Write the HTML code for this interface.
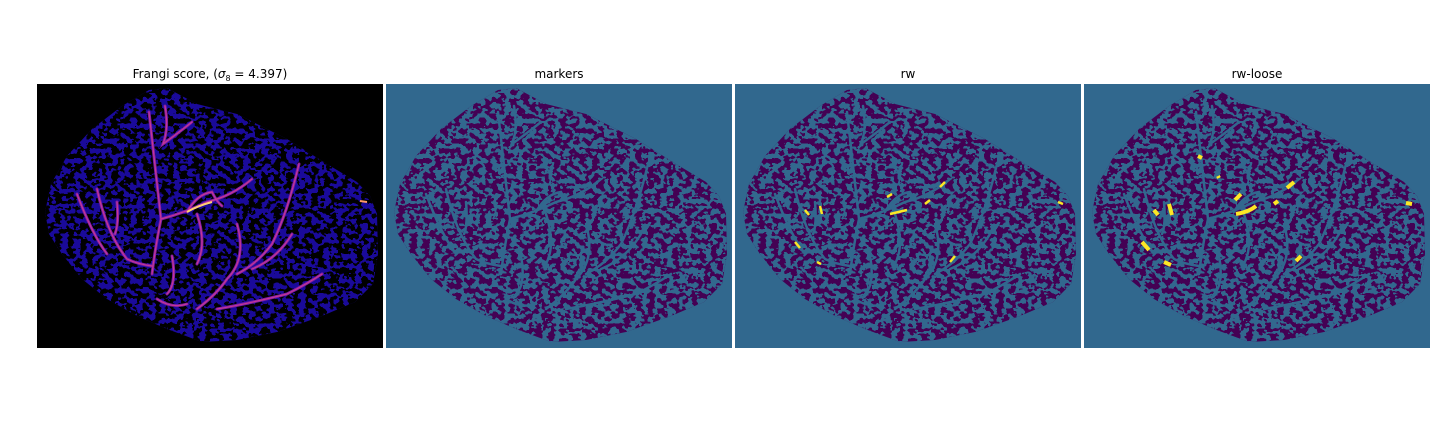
<!DOCTYPE html>
<html><head><meta charset="utf-8"><style>
body{margin:0;background:#fff;width:1440px;height:432px;overflow:hidden;font-family:"DejaVu Sans","Liberation Sans",sans-serif}
svg{position:absolute;left:0;top:0}
</style></head><body>
<svg width="1440" height="432" viewBox="0 0 1440 432">
<defs>
<path id="brain" d="M8,128 L14,100 L30,72 L55,45 L85,22 L112,6 L130,4 L160,20 L200,30 L250,55 L290,80 L320,98 L333,112 L340,130 L341,170 L336,200 L318,218 L285,232 L240,248 L200,256 L165,258 L130,245 L100,232 L70,215 L45,195 L25,170 L12,150 Z"/>
<clipPath id="bc"><use href="#brain"/></clipPath>
<filter id="texTeal" x="0" y="0" width="100%" height="100%">
<feTurbulence type="fractalNoise" baseFrequency="0.16 0.2" numOctaves="2" seed="3" result="n"/>
<feColorMatrix in="n" type="matrix" values="0 0 0 0 0  0 0 0 0 0  0 0 0 0 0  1 0 0 0 0" result="a"/>
<feComponentTransfer in="a" result="t"><feFuncA type="discrete" tableValues="0 0 0 0 0 1 1 1 1 1"/></feComponentTransfer>
<feFlood flood-color="#31688e" result="f"/><feComposite in="f" in2="t" operator="in"/>
</filter>
<filter id="texBlack" x="0" y="0" width="100%" height="100%">
<feTurbulence type="fractalNoise" baseFrequency="0.16 0.2" numOctaves="2" seed="3" result="n"/>
<feColorMatrix in="n" type="matrix" values="0 0 0 0 0  0 0 0 0 0  0 0 0 0 0  1 0 0 0 0" result="a"/>
<feComponentTransfer in="a" result="t"><feFuncA type="discrete" tableValues="0 0 0 0 0 1 1 1 1 1"/></feComponentTransfer>
<feFlood flood-color="#000000" result="f"/><feComposite in="f" in2="t" operator="in"/>
</filter>
<g id="veins" fill="none" stroke-linecap="round">
<path d="M112,28 Q118,80 124,135 Q118,165 115,190 M124,135 Q150,128 170,118 Q195,112 215,95 M150,128 Q160,110 175,108 Q180,118 185,122 M128,22 Q132,45 126,60 Q140,50 155,38 M60,105 Q70,150 90,175 Q100,180 115,182 M80,118 Q82,140 78,150 M40,110 Q55,150 70,170 M160,130 Q170,160 160,180 M200,140 Q210,175 190,195 Q180,210 160,225 M262,80 Q250,130 235,160 Q220,180 200,190 M255,150 Q240,175 215,185 M180,225 Q210,220 250,210 Q270,200 285,190 M135,172 Q140,200 130,210 M120,215 Q135,225 150,220"/>
</g>
</defs>

<g transform="translate(37,84)">
<rect width="346" height="264" fill="#000"/>
<use href="#brain" fill="#1a0a9a"/>
<g clip-path="url(#bc)"><rect width="346" height="264" filter="url(#texBlack)" fill="#fff"/></g>
<use href="#veins" stroke="#7a1aa8" stroke-width="3"/>
<use href="#veins" stroke="#d8408f" stroke-width="1.2" opacity="0.8"/>
<path d="M150,128 Q160,122 175,118" stroke="#ffd070" stroke-width="2" fill="none"/>
<path d="M323,117 L330,118" stroke="#ff9a60" stroke-width="2"/>
</g>
<text x="210" y="78" text-anchor="middle" font-size="12">Frangi score, (<tspan font-style="italic">σ</tspan><tspan font-size="8" dy="3">8</tspan><tspan dy="-3"> = 4.397)</tspan></text>

<g transform="translate(386,84)">
<rect width="346" height="264" fill="#31688e"/>
<use href="#brain" fill="#440154"/>
<g clip-path="url(#bc)"><rect width="346" height="264" filter="url(#texTeal)" fill="#fff"/></g>
<use href="#veins" stroke="#31688e" stroke-width="2.5"/>
</g>
<text x="559" y="78" text-anchor="middle" font-size="12">markers</text>

<g transform="translate(735,84)">
<rect width="346" height="264" fill="#31688e"/>
<use href="#brain" fill="#440154"/>
<g clip-path="url(#bc)"><rect width="346" height="264" filter="url(#texTeal)" fill="#fff"/></g>
<use href="#veins" stroke="#31688e" stroke-width="2.5"/>
<g stroke="#fde725" stroke-width="2.5" fill="none">
<path d="M70,126 L74,131 M85,122 L87,130 M60,158 L65,164 M82,178 L86,180 M152,113 L157,110 M155,130 L172,126 M190,120 L195,116 M205,103 L210,98 M215,178 L220,172 M323,118 L328,120"/>
</g>
</g>
<text x="908" y="78" text-anchor="middle" font-size="12">rw</text>

<g transform="translate(1084,84)">
<rect width="346" height="264" fill="#31688e"/>
<use href="#brain" fill="#440154"/>
<g clip-path="url(#bc)"><rect width="346" height="264" filter="url(#texTeal)" fill="#fff"/></g>
<use href="#veins" stroke="#31688e" stroke-width="2.5"/>
<g stroke="#fde725" stroke-width="4" fill="none">
<path d="M114,72 L118,74 M70,126 L74,131 M85,120 L88,131 M58,158 L65,166 M80,178 L87,181 M151,116 L157,110 M152,130 Q165,128 172,122 M190,120 L194,117 M203,104 L210,98 M212,177 L217,172 M322,119 L328,120 M134,92 L135,94"/>
</g>
</g>
<text x="1257" y="78" text-anchor="middle" font-size="12">rw-loose</text>
</svg>
</body></html>
